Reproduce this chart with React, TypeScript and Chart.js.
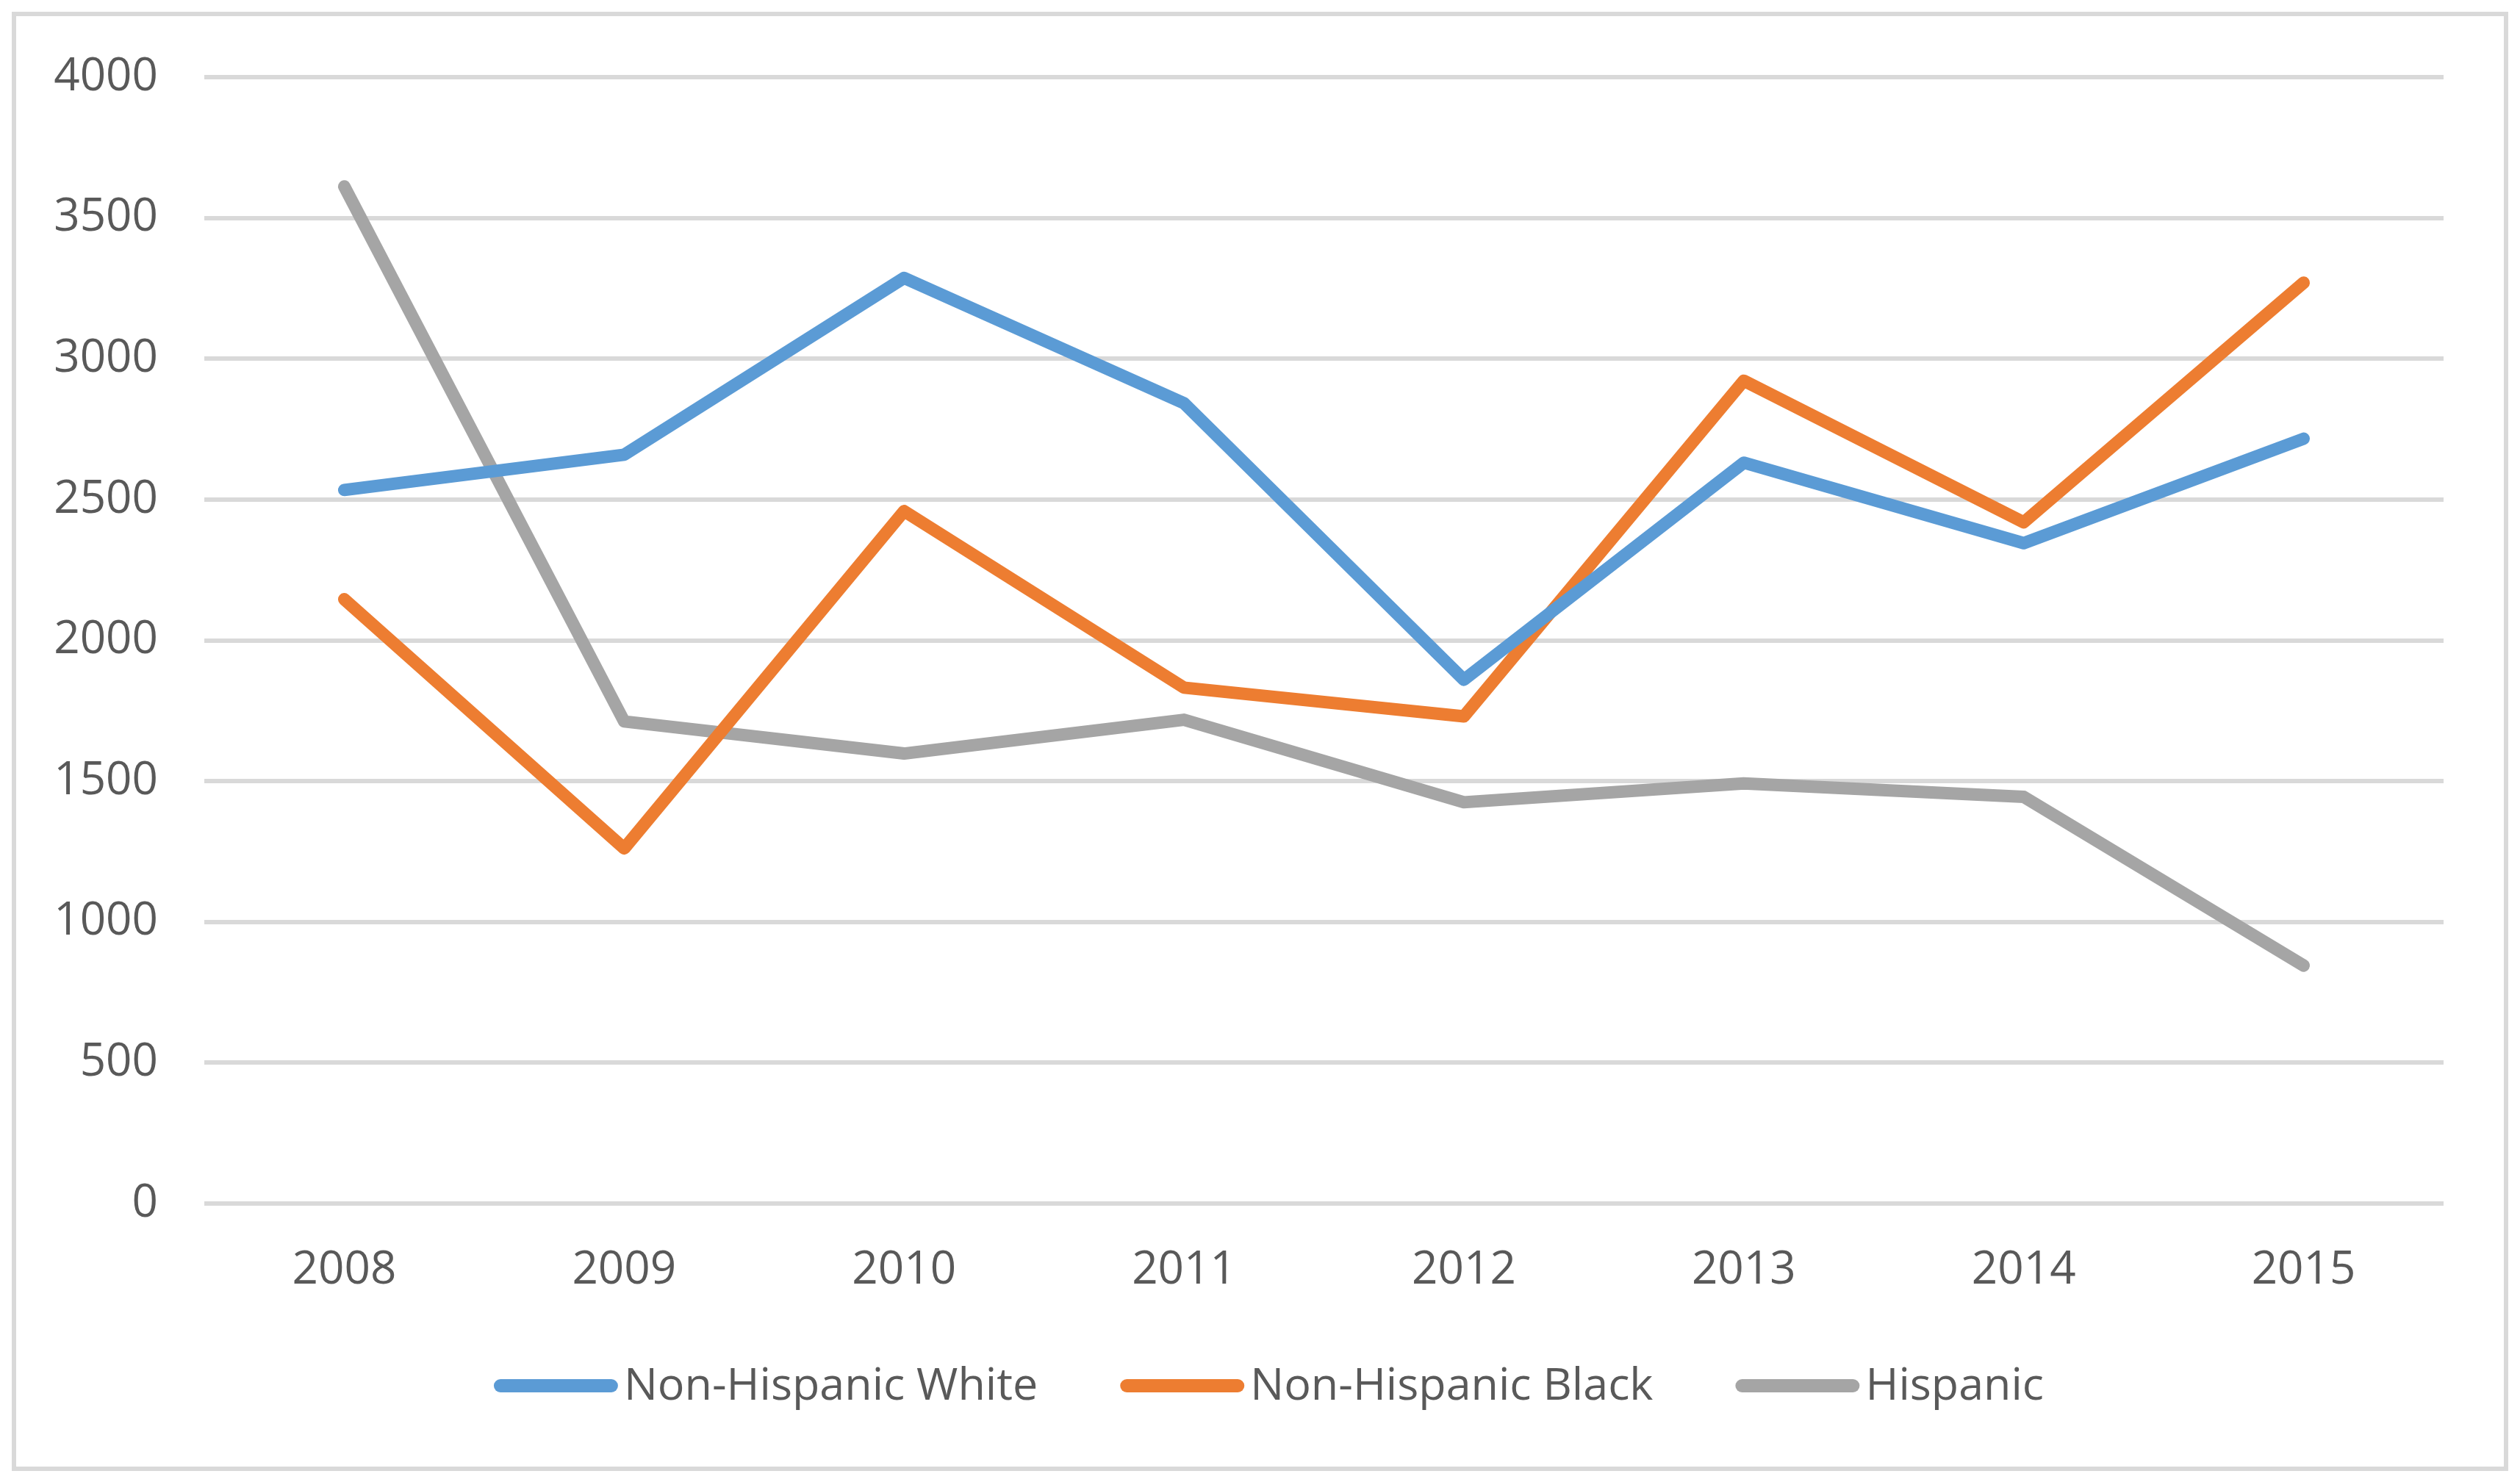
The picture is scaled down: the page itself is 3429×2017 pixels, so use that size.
import React, { useEffect, useRef } from "react";
import { Chart, registerables } from "chart.js";

Chart.register(...registerables);

const years = ["2008", "2009", "2010", "2011", "2012", "2013", "2014", "2015"];
const nonHispanicWhite = [2534, 2659, 3287, 2842, 1860, 2631, 2345, 2716];
const nonHispanicBlack = [2146, 1261, 2459, 1832, 1730, 2922, 2419, 3270];
const hispanic = [3612, 1712, 1598, 1718, 1425, 1492, 1444, 845];
const seriesNames = ["Non-Hispanic White", "Non-Hispanic Black", "Hispanic"];
const seriesColors = ["#5B9BD5", "#ED7D31", "#A5A5A5"];
const yMin = 0;
const yMax = 4000;
const yStep = 500;

const FONT = '"Open Sans", "Noto Sans", sans-serif';
const TEXT = "#595959";
const GRID = "#D9D9D9";

const legendPlugin = {
  id: "excelLegend",
  afterDraw(chart: any) {
    const ctx = chart.ctx as CanvasRenderingContext2D;
    ctx.save();
    ctx.font = `61px ${FONT}`;
    const lineLen = 151;
    const gapText = 17;
    const gapItem = 121;
    const items = chart.data.datasets.map((ds: any) => ({
      label: ds.label as string,
      color: ds.borderColor as string,
      w: ctx.measureText(ds.label).width,
    }));
    const total =
      items.reduce((s: number, it: any) => s + lineLen + gapText + it.w, 0) +
      gapItem * (items.length - 1);
    let x = 1731 - total / 2;
    const yLine = 1886;
    const yText = 1905;
    for (const it of items) {
      ctx.beginPath();
      ctx.strokeStyle = it.color;
      ctx.lineWidth = 18;
      ctx.lineCap = "round";
      ctx.moveTo(x, yLine);
      ctx.lineTo(x + lineLen, yLine);
      ctx.stroke();
      ctx.fillStyle = TEXT;
      ctx.textBaseline = "alphabetic";
      ctx.textAlign = "left";
      ctx.fillText(it.label, x + lineLen + gapText, yText);
      x += lineLen + gapText + it.w + gapItem;
    }
    ctx.restore();
  },
};

export default function App() {
  const canvasRef = useRef<HTMLCanvasElement | null>(null);

  useEffect(() => {
    document.body.style.margin = "0";
    const canvas = canvasRef.current;
    if (!canvas) return;
    const seriesData = [nonHispanicWhite, nonHispanicBlack, hispanic];
    const chart = new Chart(canvas, {
      type: "line",
      data: {
        labels: years,
        datasets: seriesNames.map((name, i) => ({
          label: name,
          data: seriesData[i],
          borderColor: seriesColors[i],
          backgroundColor: seriesColors[i],
          borderWidth: 17,
          borderCapStyle: "round",
          borderJoinStyle: "round",
          pointRadius: 0,
          pointHoverRadius: 0,
          tension: 0,
          fill: false,
        })),
      },
      options: {
        animation: false,
        responsive: false,
        devicePixelRatio: 1,
        layout: { padding: { left: 0, right: 104, top: 105, bottom: 239 } },
        plugins: {
          legend: { display: false },
          tooltip: { enabled: false },
          title: { display: false },
        },
        scales: {
          x: {
            offset: true,
            grid: { display: false, drawTicks: false },
            border: { display: false },
            ticks: {
              color: TEXT,
              font: { family: FONT, size: 62 },
              padding: 54,
              maxRotation: 0,
              autoSkip: false,
            },
            afterFit: (scale: any) => {
              scale.height = 140;
            },
          },
          y: {
            min: yMin,
            max: yMax,
            grid: { color: GRID, lineWidth: 6, drawTicks: false },
            border: { display: false },
            ticks: {
              stepSize: yStep,
              color: TEXT,
              font: { family: FONT, size: 62 },
              padding: 63,
              callback: (v: any) => String(v),
            },
            afterFit: (scale: any) => {
              scale.width = 278;
            },
          },
        },
      } as any,
      plugins: [legendPlugin],
    });
    return () => chart.destroy();
  }, []);

  return (
    <div
      style={{
        position: "absolute",
        left: 0,
        top: 0,
        width: 3429,
        height: 2017,
        background: "#FFFFFF",
      }}
    >
      <canvas
        ref={canvasRef}
        width={3429}
        height={2017}
        style={{ position: "absolute", left: 0, top: 0, width: 3429, height: 2017 }}
      />
      <div
        style={{
          position: "absolute",
          left: 16,
          top: 16,
          width: 3397,
          height: 1986,
          border: "6px solid #D9D9D9",
          boxSizing: "border-box",
          pointerEvents: "none",
        }}
      />
    </div>
  );
}
